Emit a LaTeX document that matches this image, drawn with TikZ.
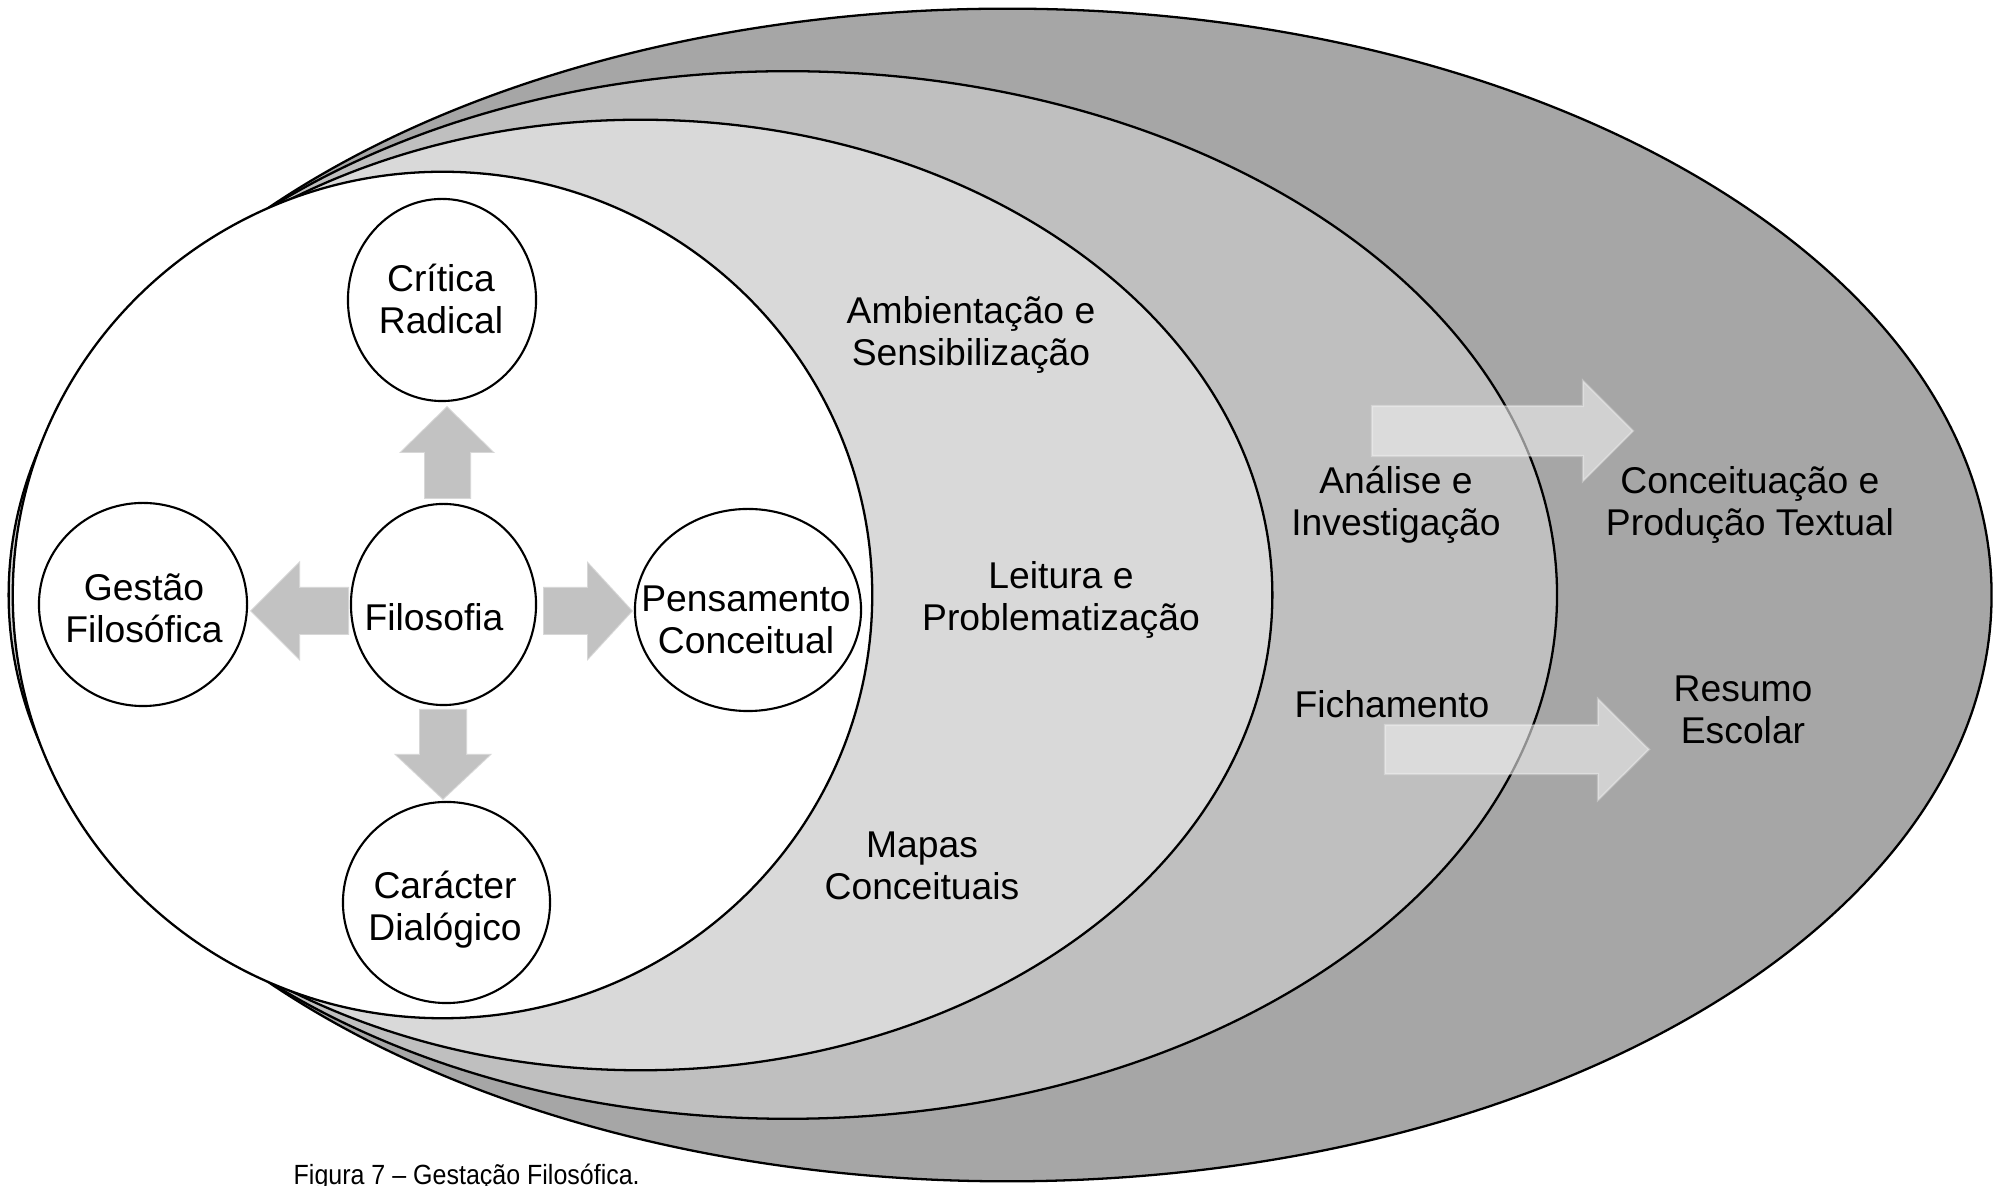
\documentclass[tikz,border=0pt]{standalone}
\usepackage{fontspec}
\usepackage{graphicx}
\setmainfont{Liberation Sans}
\usetikzlibrary{shapes.geometric}
\definecolor{ringouter}{RGB}{166,166,166}
\definecolor{ringmid}{RGB}{191,191,191}
\definecolor{ringlight}{RGB}{217,217,217}
\definecolor{arrowgray}{RGB}{194,194,194}
\definecolor{glassarrow}{RGB}{239,239,239}
\begin{document}
\begin{tikzpicture}[x=0.01cm,y=-0.01cm,
  ring/.style={draw=black,line width=0.65pt},
  bubble/.style={shape=ellipse,draw=black,line width=0.6pt,fill=white,inner sep=0pt},
  lbl/.style={font=\fontsize{10.6}{11.95}\selectfont,align=center,inner sep=0pt},
  smallarrow/.style={fill=arrowgray,draw=white,draw opacity=0.35,line width=0.5pt},
  bigarrow/.style={fill=glassarrow,fill opacity=0.6,draw=white,draw opacity=0.3,line width=0.6pt}]
\useasboundingbox (0,0) rectangle (1999,1186);
\fill[white] (0,0) rectangle (1999,1186);

% nested stages, outermost first; all grow out of the core on its left side
\filldraw[ring,fill=ringouter] (1007.5,595) ellipse [x radius=9.835cm, y radius=5.86cm];
\filldraw[ring,fill=ringmid]   (787.8,595)  ellipse [x radius=7.688cm, y radius=5.235cm];
\filldraw[ring,fill=ringlight] (640.5,595) ellipse [x radius=6.315cm, y radius=4.75cm];
\filldraw[ring,fill=white]     (442.5,595) ellipse [x radius=4.295cm, y radius=4.23cm];

% the core: philosophy and its four directions
\node[bubble,minimum width=1.88cm,minimum height=2.02cm] (critica) at (442,300) {};
\node[bubble,minimum width=2.08cm,minimum height=2.03cm] (gestao) at (143,604.5) {};
\node[bubble,minimum width=1.85cm,minimum height=2.01cm] (filo) at (443.5,604.5) {};
\node[bubble,minimum width=2.26cm,minimum height=2.02cm] (pensa) at (748,610) {};
\node[bubble,minimum width=2.07cm,minimum height=2.01cm] (carac) at (446.5,902.5) {};

\node[lbl] (tcritica) at (441,299) {Crítica\\Radical};
\node[lbl] (tgestao) at (144,608) {Gestão\\Filosófica};
\node[lbl] (tfilo) at (434,617) {Filosofia};
\node[lbl] (tpensa) at (746,620) {Pensamento\\Conceitual};
\node[lbl] (tcarac) at (445,910) {Carácter\\Dialógico};

% block arrows leaving the centre
\fill[smallarrow] (424,499) -- (424,453) -- (399,453) -- (447,406) -- (495,453) -- (471,453) -- (471,499) -- cycle;
\fill[smallarrow] (419,709) -- (467,709) -- (467,754) -- (492,754) -- (443,800) -- (394,754) -- (419,754) -- cycle;
\fill[smallarrow] (349,587) -- (300,587) -- (300,561) -- (250,611) -- (300,661) -- (300,635) -- (349,635) -- cycle;
\fill[smallarrow] (543,587) -- (587,587) -- (587,561) -- (633,611) -- (587,661) -- (587,635) -- (543,635) -- cycle;

% stage labels
\node[lbl] (amb) at (971,335) {Ambientação e\\Sensibilização};
\node[lbl] (leit) at (1061,600) {Leitura e\\Problematização};
\node[lbl] (mapas) at (922,866) {Mapas\\Conceituais};
\node[lbl] (anal) at (1396,505) {Análise e\\Investigação};
\node[lbl] (fich) at (1392,704) {Fichamento};
\node[lbl] (conc) at (1750,505) {Conceituação e\\Produção Textual};
\node[lbl] (resumo) at (1743,710) {Resumo\\Escolar};

% translucent arrows into the outer stage
\filldraw[bigarrow] (1372,406) -- (1583,406) -- (1583,381) -- (1633,431) -- (1583,481) -- (1583,456) -- (1372,456) -- cycle;
\filldraw[bigarrow] (1385,725) -- (1598,725) -- (1598,699) -- (1649,749.5) -- (1598,800) -- (1598,774) -- (1385,774) -- cycle;

% caption
\node[font=\fontsize{7.9}{9}\selectfont,anchor=base west,inner sep=0pt] (caption) at (293,1185) {\scalebox{0.9}[1]{Figura 7 – Gestação Filosófica.}};
\end{tikzpicture}
\end{document}
